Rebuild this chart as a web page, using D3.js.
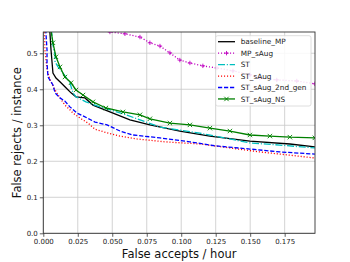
<!DOCTYPE html>
<html lang="en">
<head>
  <meta charset="UTF-8">
  <title>False accepts vs false rejects</title>
  <script src="https://d3js.org/d3.v7.min.js"></script>
  <style>
    body { margin: 0; background: #fff; }
    text { font-family: "DejaVu Sans", sans-serif; }
    .tick text { font-size: 7px; fill: #222; }
    .grid line { stroke: #c8c8c8; stroke-width: 0.8; }
  </style>
</head>
<body>
  <svg id="chart" width="350" height="262"></svg>

  <script>
    // x values (false accepts / hour) and y values (false rejects / instance)
    const baselineX = [0.0041, 0.0056, 0.0070, 0.0092, 0.0128, 0.0164, 0.0201, 0.0237, 0.0302, 0.0360, 0.0483, 0.0628, 0.0773, 0.0990, 0.1208, 0.1498, 0.1788, 0.1969];
    const baselineY = [0.600, 0.509, 0.445, 0.431, 0.418, 0.404, 0.390, 0.379, 0.376, 0.356, 0.337, 0.315, 0.301, 0.284, 0.270, 0.256, 0.248, 0.240];

    const mpSaugX = [0.0433, 0.0483, 0.0592, 0.0701, 0.0773, 0.0846, 0.0918, 0.0990, 0.1063, 0.1157, 0.1259, 0.1375, 0.1498, 0.1570, 0.1693, 0.1838, 0.1969];
    const mpSaugY = [0.565, 0.559, 0.554, 0.545, 0.529, 0.520, 0.501, 0.481, 0.473, 0.465, 0.459, 0.451, 0.440, 0.431, 0.426, 0.423, 0.415];

    const stX = [0.0049, 0.0070, 0.0085, 0.0085, 0.0107, 0.0143, 0.0193, 0.0215, 0.0237, 0.0309, 0.0411, 0.0578, 0.0701, 0.0846, 0.1135, 0.1353, 0.1498, 0.1715, 0.1969];
    const stY = [0.600, 0.523, 0.495, 0.476, 0.462, 0.445, 0.418, 0.390, 0.379, 0.365, 0.351, 0.332, 0.315, 0.295, 0.278, 0.262, 0.251, 0.245, 0.237];

    const stSaugX = [0.0005, 0.0012, 0.0027, 0.0049, 0.0085, 0.0121, 0.0157, 0.0193, 0.0215, 0.0266, 0.0324, 0.0375, 0.0462, 0.0556, 0.0679, 0.0882, 0.1135, 0.1353, 0.1570, 0.1788, 0.1969];
    const stSaugY = [0.600, 0.509, 0.454, 0.426, 0.398, 0.376, 0.356, 0.343, 0.334, 0.320, 0.306, 0.289, 0.279, 0.270, 0.262, 0.254, 0.248, 0.237, 0.226, 0.217, 0.209];

    const st2ndX = [0.0012, 0.0027, 0.0027, 0.0034, 0.0070, 0.0085, 0.0121, 0.0157, 0.0193, 0.0244, 0.0288, 0.0375, 0.0462, 0.0556, 0.0650, 0.0846, 0.1063, 0.1244, 0.1498, 0.1715, 0.1969];
    const st2ndY = [0.600, 0.509, 0.473, 0.434, 0.412, 0.390, 0.376, 0.367, 0.351, 0.334, 0.326, 0.309, 0.301, 0.284, 0.273, 0.265, 0.254, 0.243, 0.234, 0.226, 0.220];

    const stNsX = [0.0041, 0.0070, 0.0092, 0.0121, 0.0157, 0.0201, 0.0237, 0.0288, 0.0360, 0.0454, 0.0578, 0.0701, 0.0773, 0.0918, 0.1063, 0.1208, 0.1353, 0.1498, 0.1643, 0.1788, 0.1969];
    const stNsY = [0.600, 0.529, 0.490, 0.462, 0.434, 0.418, 0.398, 0.384, 0.365, 0.348, 0.337, 0.329, 0.318, 0.306, 0.301, 0.292, 0.284, 0.273, 0.270, 0.267, 0.265];

    const seriesNames = ["baseline_MP", "MP_sAug", "ST", "ST_sAug", "ST_sAug_2nd_gen", "ST_sAug_NS"];
    const xTicks = [0, 0.025, 0.05, 0.075, 0.1, 0.125, 0.15, 0.175];
    const yTicks = [0, 0.1, 0.2, 0.3, 0.4, 0.5];

    const series = [
      { name: seriesNames[0], xs: baselineX, ys: baselineY, color: "#000000", dash: null, marker: null },
      { name: seriesNames[1], xs: mpSaugX, ys: mpSaugY, color: "#bf00bf", dash: "1.1,1.9", marker: "plus" },
      { name: seriesNames[2], xs: stX, ys: stY, color: "#00bfbf", dash: "7,1.8,1.1,1.8", marker: null },
      { name: seriesNames[3], xs: stSaugX, ys: stSaugY, color: "#ff0000", dash: "1.1,1.9", marker: null },
      { name: seriesNames[4], xs: st2ndX, ys: st2ndY, color: "#0000ff", dash: "4.2,1.8", marker: null },
      { name: seriesNames[5], xs: stNsX, ys: stNsY, color: "#008000", dash: null, marker: "cross" }
    ];

    const plotLeft = 43.3, plotRight = 315, plotTop = 32, plotBottom = 233.3;

    const svg = d3.select("#chart");

    const x = d3.scaleLinear().domain([0, 0.197]).range([plotLeft, plotRight]);
    const y = d3.scaleLinear().domain([0, 0.559]).range([plotBottom, plotTop]);

    // grid
    svg.append("g").attr("class", "grid")
      .selectAll("line").data(xTicks).enter().append("line")
      .attr("x1", d => x(d)).attr("x2", d => x(d))
      .attr("y1", plotTop).attr("y2", plotBottom);
    svg.append("g").attr("class", "grid")
      .selectAll("line").data(yTicks).enter().append("line")
      .attr("x1", plotLeft).attr("x2", plotRight)
      .attr("y1", d => y(d)).attr("y2", d => y(d));

    svg.append("defs").append("clipPath").attr("id", "clip")
      .append("rect")
      .attr("x", plotLeft).attr("y", plotTop)
      .attr("width", plotRight - plotLeft).attr("height", plotBottom - plotTop);

    const line = d3.line()
      .x(d => x(d[0]))
      .y(d => y(d[1]));

    const plot = svg.append("g").attr("clip-path", "url(#clip)");

    function drawMarker(g, kind, cx, cy, color) {
      const s = 2.2;
      const p = kind === "plus"
        ? `M${cx - s},${cy}H${cx + s}M${cx},${cy - s}V${cy + s}`
        : `M${cx - s},${cy - s}L${cx + s},${cy + s}M${cx - s},${cy + s}L${cx + s},${cy - s}`;
      g.append("path").attr("d", p)
        .attr("stroke", color).attr("stroke-width", 0.9).attr("fill", "none");
    }

    series.forEach(s => {
      const pts = s.xs.map((v, i) => [v, s.ys[i]]);
      plot.append("path")
        .datum(pts)
        .attr("d", line)
        .attr("fill", "none")
        .attr("stroke", s.color)
        .attr("stroke-width", 1.3)
        .attr("stroke-dasharray", s.dash);
      if (s.marker) {
        pts.forEach(p => drawMarker(plot, s.marker, x(p[0]), y(p[1]), s.color));
      }
    });

    // axes
    const xAxis = svg.append("g")
      .attr("transform", `translate(0,${plotBottom})`)
      .call(d3.axisBottom(x).tickValues(xTicks).tickFormat(d3.format(".3f")).tickSize(3.5).tickPadding(2));
    const yAxis = svg.append("g")
      .attr("transform", `translate(${plotLeft},0)`)
      .call(d3.axisLeft(y).tickValues(yTicks).tickFormat(d3.format(".1f")).tickSize(3.5).tickPadding(2));
    [xAxis, yAxis].forEach(a => {
      a.select(".domain").remove();
      a.selectAll(".tick line").attr("stroke", "#333").attr("stroke-width", 0.8);
    });

    // frame
    svg.append("rect")
      .attr("x", plotLeft).attr("y", plotTop)
      .attr("width", plotRight - plotLeft).attr("height", plotBottom - plotTop)
      .attr("fill", "none").attr("stroke", "#333").attr("stroke-width", 0.9);

    // axis labels
    svg.append("text")
      .attr("x", (plotLeft + plotRight) / 2).attr("y", 258)
      .attr("text-anchor", "middle")
      .style("font-size", "11.5px").attr("fill", "#111")
      .text("False accepts / hour");
    svg.append("text")
      .attr("transform", `translate(21,${(plotTop + plotBottom) / 2}) rotate(-90)`)
      .attr("text-anchor", "middle")
      .style("font-size", "11.5px").attr("fill", "#111")
      .text("False rejects / instance");

    // legend
    const legend = svg.append("g");
    legend.append("rect")
      .attr("x", 215.7).attr("y", 35.7)
      .attr("width", 95.3).attr("height", 70.3)
      .attr("rx", 2)
      .attr("fill", "#fff").attr("fill-opacity", 0.85)
      .attr("stroke", "#d5d5d5").attr("stroke-width", 0.8);
    series.forEach((s, i) => {
      const ly = 41.7 + i * 11.45;
      legend.append("line")
        .attr("x1", 218).attr("x2", 235)
        .attr("y1", ly).attr("y2", ly)
        .attr("stroke", s.color).attr("stroke-width", 1.3)
        .attr("stroke-dasharray", s.dash);
      if (s.marker) drawMarker(legend, s.marker, 226.5, ly, s.color);
      legend.append("text")
        .attr("x", 240.7).attr("y", ly)
        .attr("dy", "0.35em")
        .style("font-size", "7.3px").attr("fill", "#222")
        .text(s.name);
    });
  </script>
</body>
</html>
